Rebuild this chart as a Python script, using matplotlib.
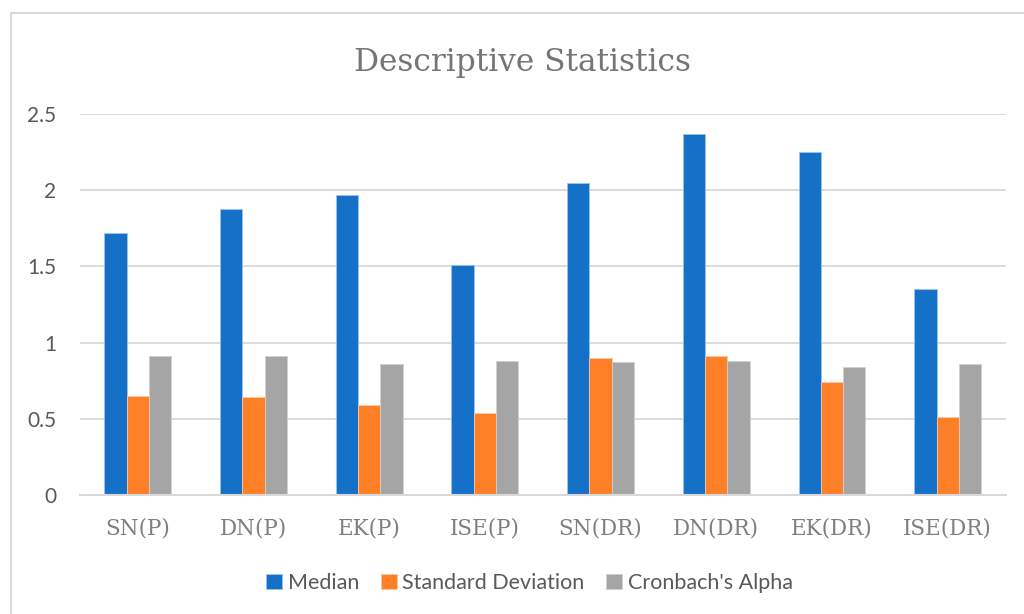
import numpy as np
import matplotlib.pyplot as plt
from matplotlib.patches import Rectangle

categories = ['SN(P)', 'DN(P)', 'EK(P)', 'ISE(P)', 'SN(DR)', 'DN(DR)', 'EK(DR)', 'ISE(DR)']
median = [1.72, 1.88, 1.97, 1.51, 2.05, 2.37, 2.25, 1.35]
std_dev = [0.65, 0.64, 0.59, 0.54, 0.90, 0.91, 0.74, 0.51]
cronbach = [0.91, 0.91, 0.86, 0.88, 0.87, 0.88, 0.84, 0.86]
yticks = [0, 0.5, 1, 1.5, 2, 2.5]
ytick_labels = ['0', '0.5', '1', '1.5', '2', '2.5']

serif = 'DejaVu Serif'
sans = 'Lato'

fig = plt.figure(figsize=(10.24, 6.14), dpi=100)
ax = fig.add_axes([0.078, 0.1938, 0.904, 0.6205])

x = np.arange(len(categories))
w = 0.193
ax.bar(x - w, median, w, color='#1570C8', edgecolor='#9DC3E6', linewidth=0.6, label='Median', zorder=3)
ax.bar(x, std_dev, w, color='#FF7F27', edgecolor='#F8CBAD', linewidth=0.6, label='Standard Deviation', zorder=3)
ax.bar(x + w, cronbach, w, color='#A5A5A5', edgecolor='#D0D0D0', linewidth=0.6, label="Cronbach's Alpha", zorder=3)

ax.set_xlim(-0.5, len(categories) - 0.5)
ax.set_ylim(0, 2.5)
ax.set_yticks(yticks)
ax.set_yticklabels(ytick_labels, fontfamily=sans, fontsize=15, color='#595959')
ax.set_xticks(x)
ax.set_xticklabels(categories, fontfamily=serif, fontsize=15.5, color='#7F7F7F')
ax.tick_params(axis='both', length=0)
ax.tick_params(axis='y', pad=17)
ax.tick_params(axis='x', pad=16)
ax.grid(axis='y', color='#D9D9D9', linewidth=1.3, zorder=0)
for s in ['top', 'right', 'left']:
    ax.spines[s].set_visible(False)
ax.spines['bottom'].set_color('#D9D9D9')
ax.spines['bottom'].set_linewidth(1.5)
ax.spines['bottom'].set_zorder(4)

fig.text(0.51, 0.898, 'Descriptive Statistics', ha='center', va='center',
         fontfamily=serif, fontsize=22.5, color='#757575')

fig.legend(loc='center', bbox_to_anchor=(0.517, 1 - 583 / 614), ncol=3, frameon=False,
           prop={'family': sans, 'size': 15.5}, labelcolor='#595959',
           handlelength=0.75, handleheight=0.75, handletextpad=0.25, columnspacing=1.0)

fig.patches.append(Rectangle((11 / 1024, -0.1), 1.2, 1.1 - 13 / 614,
                             transform=fig.transFigure, fill=False,
                             edgecolor='#D9D9D9', linewidth=1.5))

plt.savefig('out.png', dpi=100, facecolor='white')
